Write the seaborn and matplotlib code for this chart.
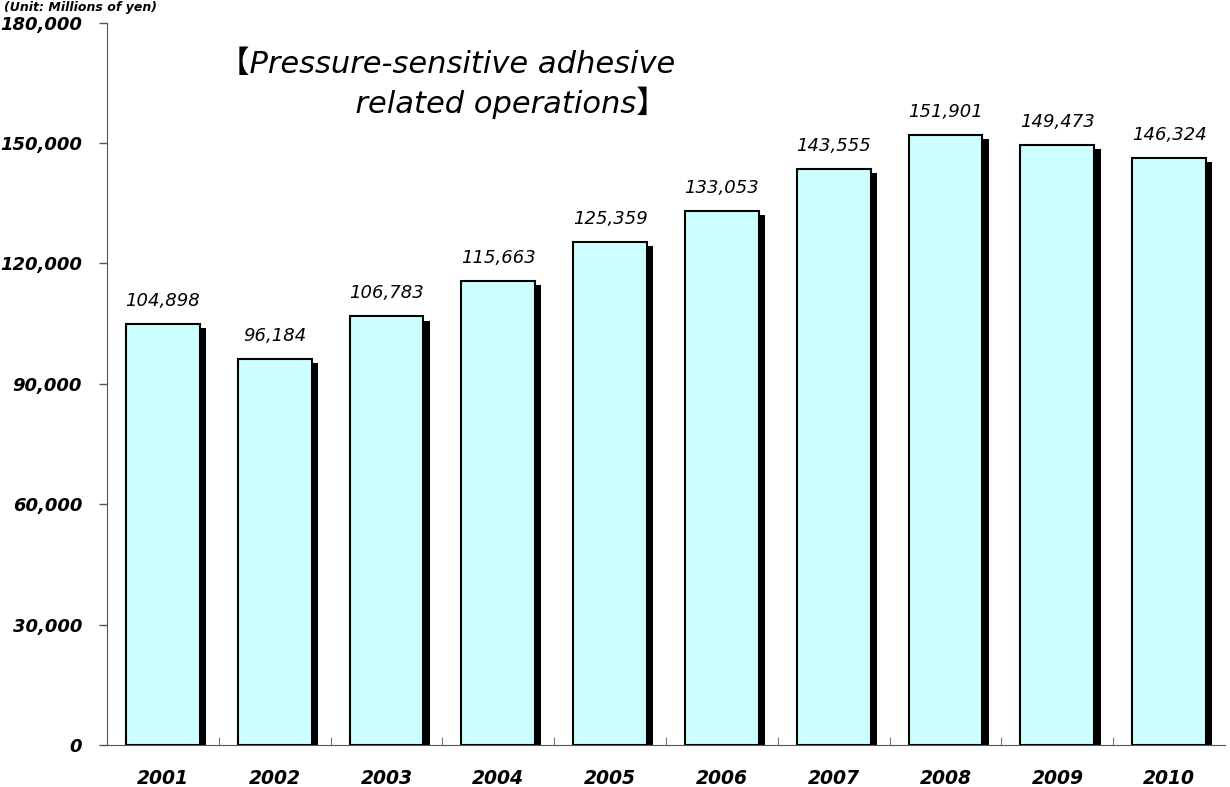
import numpy as np
import pandas as pd
import matplotlib
matplotlib.use('Agg')
import matplotlib.pyplot as plt
import matplotlib.patheffects as pe
from matplotlib.ticker import FuncFormatter
import seaborn as sns

years = ['2001', '2002', '2003', '2004', '2005', '2006', '2007', '2008', '2009', '2010']
sales = [104898, 96184, 106783, 115663, 125359, 133053, 143555, 151901, 149473, 146324]
y_ticks = [0, 30000, 60000, 90000, 120000, 150000, 180000]

df = pd.DataFrame({'year': years, 'sales': sales})

sns.set_style('white')
plt.rcParams['font.family'] = ['DejaVu Sans', 'Noto Sans CJK JP']
plt.rcParams['text.color'] = 'black'
plt.rcParams['xtick.color'] = 'black'
plt.rcParams['ytick.color'] = 'black'

fig = plt.figure(figsize=(12.3, 7.87), dpi=100)
ax = fig.add_axes([0.087, 0.0534, 0.909, 0.918])

sns.barplot(data=df, x='year', y='sales', color='#ccffff', edgecolor='black',
            linewidth=1.5, width=0.66, saturation=1, ax=ax)

# drop shadow under each bar
for bar in ax.patches:
    bar.set_path_effects([pe.SimplePatchShadow(offset=(4.5, -3), shadow_rgbFace='black', alpha=1),
                          pe.Normal()])

# value labels
for i, v in enumerate(sales):
    ax.text(i, v + 3500, f'{v:,}', ha='center', va='bottom', fontsize=13, style='italic')

ax.set_ylim(0, 180000)
ax.set_xlim(-0.5, len(years) - 0.5)
ax.set_yticks(y_ticks)
ax.yaxis.set_major_formatter(FuncFormatter(lambda v, p: f'{int(v):,}'))
ax.set_xlabel('')
ax.set_ylabel('')

for s in ['top', 'right']:
    ax.spines[s].set_visible(False)
ax.spines['left'].set_color('#555555')
ax.spines['bottom'].set_color('#555555')

ax.tick_params(axis='y', direction='out', length=6, width=1, color='#555555', left=True,
               labelsize=13, pad=12)
ax.tick_params(axis='x', bottom=False, labelsize=13.5, pad=14)
ax.set_xticks(np.arange(len(years) - 1) + 0.5, minor=True)
ax.tick_params(axis='x', which='minor', direction='in', length=6, color='#555555', bottom=True)
for lbl in ax.get_xticklabels() + ax.get_yticklabels():
    lbl.set_fontweight('bold')
    lbl.set_fontstyle('italic')

fig.text(0.003, 0.999, '(Unit: Millions of yen)', fontsize=9, style='italic', fontweight='bold',
         ha='left', va='top')
ax.text(0.1, 0.962, '【Pressure-sensitive adhesive\n              related operations】',
        transform=ax.transAxes, fontsize=22, style='italic', ha='left', va='top',
        linespacing=1.3)

fig.savefig('out.png', dpi=100)
